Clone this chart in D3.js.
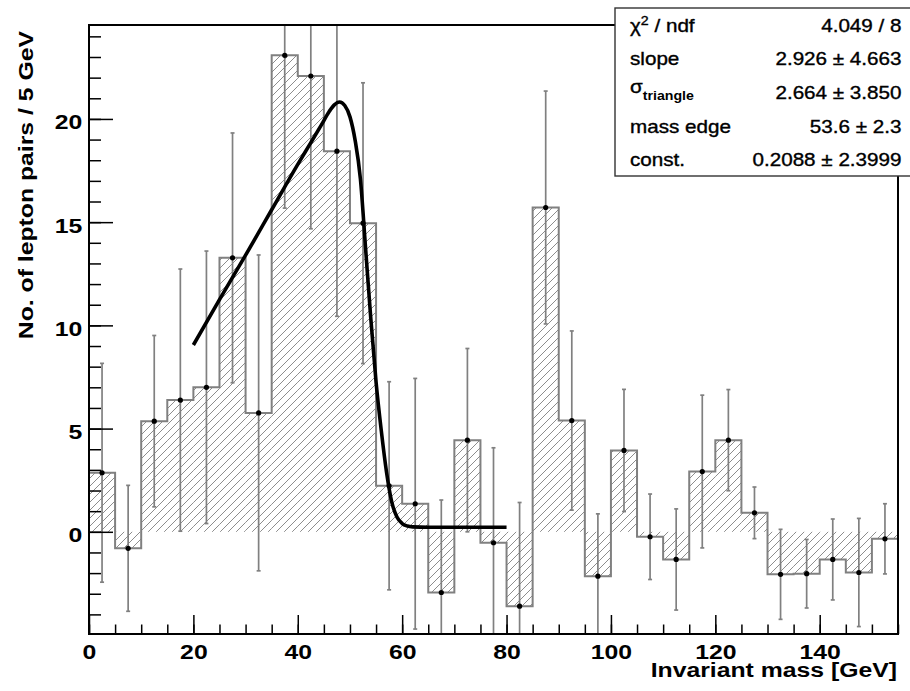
<!DOCTYPE html>
<html>
<head>
<meta charset="utf-8">
<script src="https://cdn.jsdelivr.net/npm/d3@7"></script>
<style>
  body { margin: 0; background: #fff; }
  text { font-family: "Liberation Sans", Arial, sans-serif; }
</style>
</head>
<body>
<svg id="chart" width="910" height="691"></svg>
<script>
// 5 GeV bins, lower edges
const binStart = [0, 5, 10, 15, 20, 25, 30, 35, 40, 45, 50, 55, 60, 65, 70, 75,
  80, 85, 90, 95, 100, 105, 110, 115, 120, 125, 130, 135, 140, 145, 150];
const counts = [2.86, -0.80, 5.36, 6.38, 7.0, 13.27, 5.76, 23.08, 22.08, 18.44, 14.95,
  2.23, 1.36, -2.94, 4.44, -0.53, -3.6, 15.71, 5.39, -2.15, 3.94, -0.24, -1.34,
  2.92, 4.44, 0.92, -2.06, -2.03, -1.34, -1.97, -0.34];
const errors = [5.3, 3.05, 4.15, 6.35, 6.6, 6.05, 7.65, 7.4, 7.4, 8.0, 6.8, 5.04,
  6.07, 4.48, 4.44, 4.6, 5.02, 5.64, 4.34, 3.02, 2.96, 2.07, 2.45, 3.7, 2.45, 1.25,
  2.18, 1.66, 1.96, 2.62, 1.7];

// fitted curve
const fitX = [20, 25, 30, 35, 40, 42.5, 44.5, 46, 47, 48, 49, 50, 51, 52, 53, 54,
  55, 56, 57, 58, 59, 60, 61, 62, 65, 70, 75, 80];
const fitY = [9.05, 11.25, 13.4, 15.6, 17.8, 18.85, 19.7, 20.35, 20.68, 20.82, 20.65,
  20.1, 18.95, 17.1, 13.7, 10.3, 7.25, 4.9, 2.9, 1.45, 0.72, 0.4, 0.28, 0.24, 0.22,
  0.22, 0.22, 0.22];

const xMajorTicks = [0, 20, 40, 60, 80, 100, 120, 140];
const yMajorTicks = [0, 5, 10, 15, 20];

const statNames = ["chi2", "slope", "sigma", "mass edge", "const."];
const statValues = ["4.049 / 8", "2.926 \u00b1 4.663", "2.664 \u00b1 3.850",
  "53.6 \u00b1 2.3", "0.2088 \u00b1 2.3999"];

const binWidth = 5;
const frame = { left: 89, right: 898, top: 25, bottom: 634 };
const histGrey = "#808080";
const stretch = 1.18; // the picture's lettering is a little wide

const svg = d3.select("#chart");

const x = d3.scaleLinear().domain([0, 155]).range([frame.left, frame.right]);
const y = d3.scaleLinear().domain([-4.95, 24.55]).range([frame.bottom, frame.top]);

const bins = binStart.map((b, i) => ({ lo: b, hi: b + binWidth, v: counts[i], e: errors[i] }));

// hatch pattern
const defs = svg.append("defs");
const pat = defs.append("pattern")
  .attr("id", "hatch")
  .attr("patternUnits", "userSpaceOnUse")
  .attr("width", 8)
  .attr("height", 8);
pat.append("path")
  .attr("d", "M0,8 L8,0 M-1,1 L1,-1 M7,9 L9,7")
  .attr("stroke", "#808080")
  .attr("stroke-width", 0.9);

defs.append("clipPath").attr("id", "frameClip")
  .append("rect")
  .attr("x", frame.left).attr("y", frame.top)
  .attr("width", frame.right - frame.left)
  .attr("height", frame.bottom - frame.top);

const plot = svg.append("g").attr("clip-path", "url(#frameClip)");

// hatched area between 0 and bin content
plot.selectAll("rect.fill")
  .data(bins)
  .join("rect")
  .attr("class", "fill")
  .attr("x", (d) => x(d.lo))
  .attr("width", (d) => x(d.hi) - x(d.lo))
  .attr("y", (d) => y(Math.max(0, d.v)))
  .attr("height", (d) => Math.abs(y(d.v) - y(0)))
  .attr("fill", "url(#hatch)");

// histogram outline
let outline = [[x(0), y(0)]];
bins.forEach((d) => {
  outline.push([x(d.lo), y(d.v)]);
  outline.push([x(d.hi), y(d.v)]);
});
plot.append("path")
  .attr("d", d3.line()(outline))
  .attr("fill", "none")
  .attr("stroke", histGrey)
  .attr("stroke-width", 2);

// error bars
const bars = plot.append("g")
  .attr("stroke", histGrey)
  .attr("stroke-width", 1.7);
bins.forEach((d) => {
  const cx = x(d.lo + binWidth / 2);
  bars.append("line")
    .attr("x1", cx).attr("x2", cx)
    .attr("y1", y(d.v + d.e)).attr("y2", y(d.v - d.e));
  [d.v + d.e, d.v - d.e].forEach((t) => {
    bars.append("line")
      .attr("x1", cx - 2).attr("x2", cx + 2)
      .attr("y1", y(t)).attr("y2", y(t));
  });
});

plot.selectAll("circle.pt")
  .data(bins)
  .join("circle")
  .attr("class", "pt")
  .attr("cx", (d) => x(d.lo + binWidth / 2))
  .attr("cy", (d) => y(d.v))
  .attr("r", 2.6)
  .attr("fill", "#000");

// fit function
const fitLine = d3.line()
  .x((d, i) => x(fitX[i]))
  .y((d) => y(d))
  .curve(d3.curveMonotoneX);
plot.append("path")
  .datum(fitY)
  .attr("d", fitLine)
  .attr("fill", "none")
  .attr("stroke", "#000")
  .attr("stroke-width", 3.6);

// axes: minor ticks first, then majors with labels
svg.append("g")
  .attr("transform", `translate(0,${frame.bottom})`)
  .call(d3.axisBottom(x).tickValues(d3.range(0, 156, 5)).tickSizeInner(-9.5).tickSizeOuter(0).tickFormat(""))
  .call((g) => g.select(".domain").remove());
svg.append("g")
  .attr("transform", `translate(0,${frame.bottom})`)
  .call(d3.axisBottom(x).tickValues(xMajorTicks).tickSizeInner(-19).tickSizeOuter(0).tickPadding(10))
  .call((g) => g.select(".domain").remove())
  .call((g) => g.selectAll("text")
    .attr("font-size", 21).attr("font-weight", "bold").attr("fill", "#000")
    .attr("transform", `scale(${stretch},1)`));

svg.append("g")
  .attr("transform", `translate(${frame.left},0)`)
  .call(d3.axisLeft(y).tickValues(d3.range(-4, 25, 1)).tickSizeInner(-12).tickSizeOuter(0).tickFormat(""))
  .call((g) => g.select(".domain").remove());
svg.append("g")
  .attr("transform", `translate(${frame.left},0)`)
  .call(d3.axisLeft(y).tickValues(yMajorTicks).tickSizeInner(-24).tickSizeOuter(0).tickPadding(5.7))
  .call((g) => g.select(".domain").remove())
  .call((g) => g.selectAll("text")
    .attr("font-size", 21).attr("font-weight", "bold").attr("fill", "#000").attr("dy", "0.47em")
    .attr("transform", `scale(${stretch},1)`));

svg.selectAll(".tick line").attr("stroke", "#000").attr("stroke-width", 1.5);

// frame
svg.append("rect")
  .attr("x", frame.left).attr("y", frame.top)
  .attr("width", frame.right - frame.left)
  .attr("height", frame.bottom - frame.top)
  .attr("fill", "none")
  .attr("stroke", "#000")
  .attr("stroke-width", 2);

// axis titles
svg.append("text")
  .attr("transform", `translate(897,677) scale(${stretch},1)`)
  .attr("text-anchor", "end")
  .attr("font-size", 21)
  .attr("font-weight", "bold")
  .text("Invariant mass [GeV]");

svg.append("text")
  .attr("transform", `translate(33,31) rotate(-90) scale(${stretch},1)`)
  .attr("text-anchor", "end")
  .attr("font-size", 21)
  .attr("font-weight", "bold")
  .text("No. of lepton pairs / 5 GeV");

// stats box
const box = { x: 615, y: 8, w: 300, h: 168 };
svg.append("rect")
  .attr("x", box.x).attr("y", box.y)
  .attr("width", box.w).attr("height", box.h)
  .attr("fill", "#fff")
  .attr("stroke", "#333")
  .attr("stroke-width", 1.4);

const rowH = box.h / statNames.length;
statNames.forEach((name, i) => {
  const base = box.y + rowH * (i + 0.5) + 7;
  const t = svg.append("text")
    .attr("transform", `translate(630,${base}) scale(${stretch},1)`)
    .attr("font-size", 17.5)
    .attr("stroke", "#000")
    .attr("stroke-width", 0.35);
  if (name === "chi2") {
    t.append("tspan").text("\u03c7");
    t.append("tspan").attr("font-size", 12).attr("dy", -7).text("2");
    t.append("tspan").attr("dy", 7).text(" / ndf");
  } else if (name === "sigma") {
    t.append("tspan").attr("dy", -6).text("\u03c3");
    t.append("tspan").attr("font-size", 12).attr("font-weight", "bold").attr("stroke-width", 0).attr("dy", 7).text("triangle");
  } else {
    t.text(name);
  }
  svg.append("text")
    .attr("transform", `translate(901.5,${base}) scale(${stretch},1)`)
    .attr("text-anchor", "end")
    .attr("font-size", 17.5)
    .attr("stroke", "#000")
    .attr("stroke-width", 0.35)
    .text(statValues[i]);
});
</script>
</body>
</html>
